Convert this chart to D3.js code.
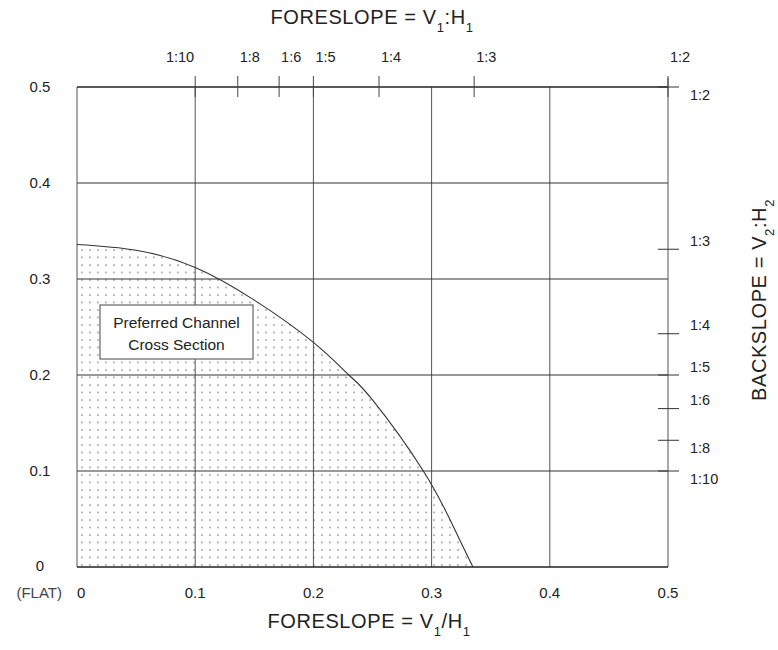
<!DOCTYPE html>
<html>
<head>
<meta charset="utf-8">
<title>Foreslope / Backslope</title>
<script src="https://cdn.jsdelivr.net/npm/d3@7"></script>
<style>
  body { margin: 0; background: #fff; }
  text { font-family: "Liberation Sans", Arial, sans-serif; fill: #222; }
</style>
</head>
<body>
<script>
// Sets width and height of SVG object
var w = 778;
var h = 650;

// grid values (V/H)
var gridValues = [0, 0.1, 0.2, 0.3, 0.4, 0.5];
var gridLabels = ["0", "0.1", "0.2", "0.3", "0.4", "0.5"];

// foreslope ratio ticks along the top, positions
var foreTickValues = [0.1, 0.136, 0.171, 0.2, 0.2555, 0.336, 0.5];
var foreTickLabels = ["1:10", "1:8", "1:6", "1:5", "1:4", "1:3", "1:2"];

// backslope ratio ticks along the right
var backTickValues = [0.5, 0.331, 0.243, 0.2, 0.165, 0.132, 0.1];
var backTickLabels = ["1:2", "1:3", "1:4", "1:5", "1:6", "1:8", "1:10"];

// boundary of the preferred channel cross section
var curveX = [0, 0.05, 0.1, 0.15, 0.2, 0.23, 0.25, 0.293, 0.32, 0.335];
var curveY = [0.336, 0.330, 0.312, 0.278, 0.234, 0.200, 0.174, 0.100, 0.038, 0];

var x = d3.scaleLinear().domain([0, 0.5]).range([77, 668]);
var y = d3.scaleLinear().domain([0, 0.5]).range([567, 87]);

var svg = d3.select("body").append("svg").attr("width", w).attr("height", h);

// stipple pattern for the shaded region
var defs = svg.append("defs");
var pat = defs.append("pattern")
  .attr("id", "dots")
  .attr("patternUnits", "userSpaceOnUse")
  .attr("x", x(0) + 3).attr("y", y(0) - 4)
  .attr("width", 8).attr("height", 7.5);
pat.append("circle").attr("cx", 2).attr("cy", 2).attr("r", 0.75).attr("fill", "#707070");

var curveData = curveX.map(function(d, i){ return [d, curveY[i]]; });
var smooth = d3.curveNatural;

svg.append("path")
  .datum(curveData)
  .attr("fill", "url(#dots)")
  .attr("d", d3.area()
    .x(function(d){ return x(d[0]); })
    .y0(y(0))
    .y1(function(d){ return y(d[1]); })
    .curve(smooth));

// vertical grid lines
var inner = gridValues.slice(1, 5);
svg.selectAll("line.vgrid").data(inner).enter().append("line")
  .attr("class", "vgrid")
  .attr("x1", function(d){ return x(d); })
  .attr("x2", function(d){ return x(d); })
  .attr("y1", y(0))
  .attr("y2", y(0.5))
  .attr("stroke", "#555")
  .attr("stroke-width", 1);

// horizontal grid lines
svg.selectAll("line.hgrid").data(inner).enter().append("line")
  .attr("class", "hgrid")
  .attr("x1", x(0))
  .attr("x2", x(0.5))
  .attr("y1", function(d){ return y(d); })
  .attr("y2", function(d){ return y(d); })
  .attr("stroke", "#333")
  .attr("stroke-width", 1);

// frame
svg.append("line").attr("x1", x(0)).attr("x2", x(0)).attr("y1", y(0)).attr("y2", y(0.5))
  .attr("stroke", "#555");
svg.append("line").attr("x1", x(0.5)).attr("x2", x(0.5)).attr("y1", y(0)).attr("y2", y(0.5) - 9)
  .attr("stroke", "#555");
svg.append("line").attr("x1", x(0)).attr("x2", x(0.5)).attr("y1", y(0)).attr("y2", y(0))
  .attr("stroke", "#222").attr("stroke-width", 1.3);
svg.append("line").attr("x1", x(0)).attr("x2", x(0.5)).attr("y1", y(0.5)).attr("y2", y(0.5))
  .attr("stroke", "#222").attr("stroke-width", 1.3);

// top ticks (foreslope ratios)
svg.selectAll("line.ftick").data(foreTickValues).enter().append("line")
  .attr("class", "ftick")
  .attr("x1", function(d){ return x(d); })
  .attr("x2", function(d){ return x(d); })
  .attr("y1", y(0.5) - 11)
  .attr("y2", y(0.5) + 10)
  .attr("stroke", "#444");

svg.selectAll("text.flabel").data(foreTickValues).enter().append("text")
  .attr("class", "flabel")
  .attr("x", function(d, i){ return i == 0 ? x(d) - 1 : x(d) + 2; })
  .attr("y", 62)
  .attr("text-anchor", function(d, i){ return i == 0 ? "end" : "start"; })
  .style("font-size", "14.5px")
  .text(function(d, i){ return foreTickLabels[i]; });

// right ticks (backslope ratios)
svg.selectAll("line.btick").data(backTickValues).enter().append("line")
  .attr("class", "btick")
  .attr("x1", x(0.5) - 10)
  .attr("x2", x(0.5) + 11)
  .attr("y1", function(d){ return y(d); })
  .attr("y2", function(d){ return y(d); })
  .attr("stroke", "#333");

// labels sit just above the tick, except the ones that would collide
var below = ["1:2", "1:8", "1:10"];
svg.selectAll("text.blabel").data(backTickValues).enter().append("text")
  .attr("class", "blabel")
  .attr("x", 690)
  .attr("y", function(d, i){
    var off = below.indexOf(backTickLabels[i]) >= 0 ? 8 : -8.5;
    return y(d) + off;
  })
  .attr("dy", "0.35em")
  .style("font-size", "14.5px")
  .text(function(d, i){ return backTickLabels[i]; });

// left labels
svg.selectAll("text.ylabel").data(gridValues).enter().append("text")
  .attr("class", "ylabel")
  .attr("x", 40)
  .attr("y", function(d){ return d == 0 ? y(d) - 1 : y(d); })
  .attr("dy", "0.35em")
  .attr("text-anchor", "middle")
  .style("font-size", "15px")
  .text(function(d, i){ return gridLabels[i]; });

// bottom labels
svg.selectAll("text.xlabel").data(gridValues).enter().append("text")
  .attr("class", "xlabel")
  .attr("x", function(d){ return x(d); })
  .attr("y", 593)
  .attr("dy", "0.35em")
  .attr("text-anchor", function(d){ return d == 0 ? "start" : "middle"; })
  .style("font-size", "15px")
  .text(function(d, i){ return gridLabels[i]; });

svg.append("text").attr("x", 62).attr("y", 593).attr("dy", "0.35em")
  .attr("text-anchor", "end").style("font-size", "15px").style("fill", "#444")
  .text("(FLAT)");

// curve boundary
svg.append("path")
  .datum(curveData)
  .attr("fill", "none")
  .attr("stroke", "#333")
  .attr("stroke-width", 1.1)
  .attr("d", d3.line()
    .x(function(d){ return x(d[0]); })
    .y(function(d){ return y(d[1]); })
    .curve(smooth));

// label box
var box = svg.append("g");
box.append("rect").attr("x", 100).attr("y", 305).attr("width", 153).attr("height", 54)
  .attr("fill", "#fff").attr("stroke", "#444").attr("stroke-width", 1);
box.append("text").attr("x", 176.5).attr("y", 327.5).attr("text-anchor", "middle")
  .style("font-size", "15.5px").text("Preferred Channel");
box.append("text").attr("x", 176.5).attr("y", 349.5).attr("text-anchor", "middle")
  .style("font-size", "15.5px").text("Cross Section");

// titles with subscripts
function subTitle(sel, parts) {
  parts.forEach(function(p){
    if (p.sub) {
      sel.append("tspan").attr("dy", 8).style("font-size", "13px").text(p.t);
    } else {
      sel.append("tspan").attr("dy", p.back ? -8 : 0).text(p.t);
    }
  });
}

var topTitle = svg.append("text").attr("x", 372).attr("y", 24).attr("text-anchor", "middle")
  .style("font-size", "20px").style("letter-spacing", "0.6px");
subTitle(topTitle, [{t: "FORESLOPE = V"}, {t: "1", sub: true}, {t: ":H", back: true}, {t: "1", sub: true}]);

var bottomTitle = svg.append("text").attr("x", 369).attr("y", 628).attr("text-anchor", "middle")
  .style("font-size", "20px").style("letter-spacing", "0.6px");
subTitle(bottomTitle, [{t: "FORESLOPE = V"}, {t: "1", sub: true}, {t: "/H", back: true}, {t: "1", sub: true}]);

var rightTitle = svg.append("text").attr("transform", "translate(766,300) rotate(-90)")
  .attr("text-anchor", "middle")
  .style("font-size", "20px").style("letter-spacing", "0.6px");
subTitle(rightTitle, [{t: "BACKSLOPE = V"}, {t: "2", sub: true}, {t: ":H", back: true}, {t: "2", sub: true}]);
</script>
</body>
</html>
